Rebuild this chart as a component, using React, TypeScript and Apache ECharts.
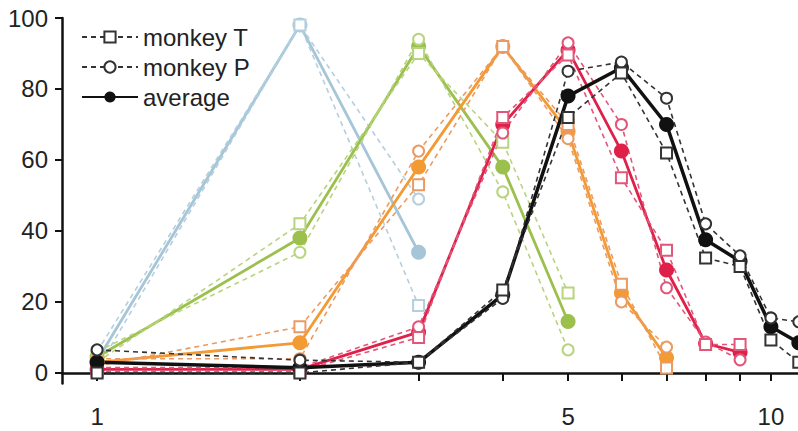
import React, { useEffect, useRef } from "react";
import * as echarts from "echarts";

// x positions (log scale)
const X = [1, 2, 3, 4, 5, 6, 7, 8, 9, 10, 11];
const xTickValues = [1, 2, 3, 4, 5, 6, 7, 8, 9, 10];
const xLabelValues = [1, 5, 10];
const yTickValues = [0, 20, 40, 60, 80, 100];

// blue group (x = 1..3)
const blueT = [1, 98, 19];
const blueP = [6, 98, 49];
const blueAvg = [3.5, 98, 34];
// green group (x = 1..5)
const greenT = [3, 42, 90, 65, 22.5];
const greenP = [6, 34, 94, 51, 6.5];
const greenAvg = [4.5, 38, 92, 58, 14.5];
// orange group (x = 1..7)
const orangeT = [2, 13, 53, 92, 70, 25, 1.4];
const orangeP = [4, 4, 62.5, 92, 66, 20, 7.3];
const orangeAvg = [3, 8.5, 58, 92, 68, 22.5, 4.3];
// red group (x = 1..9)
const redT = [0.5, 0.5, 10, 72, 89.6, 55, 34.6, 8, 8];
const redP = [1.5, 1.5, 13, 67.6, 93, 70, 24, 8.7, 3.7];
const redAvg = [1, 1, 11.5, 70, 91, 62.5, 29, 8.3, 5.8];
// black group (x = 1..11)
const blackT = [0, 0, 3, 23.4, 72, 84.5, 62, 32.4, 30, 9.3, 3];
const blackP = [6.5, 3.6, 3, 21, 85, 87.6, 77.4, 42, 33, 15.5, 14.4];
const blackAvg = [3, 1.5, 3, 22, 78, 86, 70, 37.5, 31.5, 13, 8.5];

const groups = [
  { key: "blue", solid: "#a6c6d8", dash: "#b4cfdd", T: blueT, P: blueP, A: blueAvg, w: 2.8 },
  { key: "green", solid: "#9cc04e", dash: "#b7d47e", T: greenT, P: greenP, A: greenAvg, w: 2.8 },
  { key: "orange", solid: "#f29a33", dash: "#ec9a62", T: orangeT, P: orangeP, A: orangeAvg, w: 2.8 },
  { key: "red", solid: "#df2049", dash: "#e2567a", T: redT, P: redP, A: redAvg, w: 2.8 },
  { key: "black", solid: "#111111", dash: "#333333", T: blackT, P: blackP, A: blackAvg, w: 3.5 },
];

const pairs = (ys: number[]) => ys.map((y, i) => [X[i], y]);

const FONT = "'Liberation Sans', Arial, Helvetica, sans-serif";

export default function App() {
  const ref = useRef<HTMLDivElement>(null);
  useEffect(() => {
    if (!ref.current) return;
    const chart = echarts.init(ref.current, undefined, { renderer: "svg" });
    const series: any[] = [];
    groups.forEach((g) => {
      series.push({
        name: g.key + " average",
        type: "line",
        clip: false,
        data: pairs(g.A),
        symbol: "circle",
        symbolSize: 15,
        lineStyle: { color: g.solid, width: g.w },
        itemStyle: { color: g.solid, borderWidth: 0 },
        emphasis: { disabled: true },
      });
      series.push({
        name: g.key + " P",
        type: "line",
        clip: false,
        data: pairs(g.P),
        symbol: "emptyCircle",
        symbolSize: 11,
        lineStyle: { color: g.dash, width: 1.6, type: [5, 4] },
        itemStyle: { color: g.dash, borderColor: g.dash, borderWidth: 1.8 },
        emphasis: { disabled: true },
      });
      series.push({
        name: g.key + " T",
        type: "line",
        clip: false,
        data: pairs(g.T),
        symbol: "emptyRect",
        symbolSize: 11,
        lineStyle: { color: g.dash, width: 1.6, type: [5, 4] },
        itemStyle: { color: g.dash, borderColor: g.dash, borderWidth: 1.8 },
        emphasis: { disabled: true },
      });
    });
    // legend-only series
    series.push({
      name: "monkey T",
      type: "line",
      data: [],
      symbol: "emptyRect",
      lineStyle: { color: "#333", width: 1.6, type: [5, 4] },
      itemStyle: { color: "#333", borderWidth: 1.8 },
    });
    series.push({
      name: "monkey P",
      type: "line",
      data: [],
      symbol: "emptyCircle",
      lineStyle: { color: "#333", width: 1.6, type: [5, 4] },
      itemStyle: { color: "#333", borderWidth: 1.8 },
    });
    series.push({
      name: "average",
      type: "line",
      data: [],
      symbol: "circle",
      lineStyle: { color: "#111", width: 3.5 },
      itemStyle: { color: "#111" },
    });

    chart.setOption({
      animation: false,
      backgroundColor: "#ffffff",
      textStyle: { fontFamily: FONT },
      grid: { left: 62, top: 18, right: 0, bottom: 47.4, containLabel: false },
      legend: {
        data: ["monkey T", "monkey P", "average"],
        orient: "vertical",
        left: 76,
        top: 20,
        itemWidth: 56,
        itemHeight: 14,
        itemGap: 6,
        selectedMode: false,
        textStyle: { fontSize: 24, color: "#222", fontFamily: FONT },
      },
      xAxis: {
        type: "log",
        logBase: 10,
        min: 0.887,
        max: 10.97,
        offset: 9,
        axisLine: { show: true, lineStyle: { color: "#111", width: 2.5 } },
        axisTick: {
          show: true,
          customValues: xTickValues,
          length: 8,
          lineStyle: { color: "#111", width: 2 },
        },
        axisLabel: {
          customValues: xLabelValues,
          fontSize: 24,
          color: "#222",
          margin: 12,
          fontFamily: FONT,
          formatter: (v: number) => String(Math.round(v)),
        },
        splitLine: { show: false },
        minorTick: { show: false },
      },
      yAxis: {
        type: "value",
        min: -3,
        max: 100,
        axisLine: { show: true, lineStyle: { color: "#111", width: 2.5 } },
        axisTick: {
          show: true,
          customValues: yTickValues,
          length: 7,
          lineStyle: { color: "#111", width: 2 },
        },
        axisLabel: {
          customValues: yTickValues,
          fontSize: 24,
          color: "#222",
          margin: 14,
          fontFamily: FONT,
        },
        splitLine: { show: false },
      },
      series,
    });
    return () => chart.dispose();
  }, []);
  return (
    <div
      ref={ref}
      style={{ position: "fixed", left: 0, top: 0, width: 798, height: 431, background: "#fff" }}
    />
  );
}
